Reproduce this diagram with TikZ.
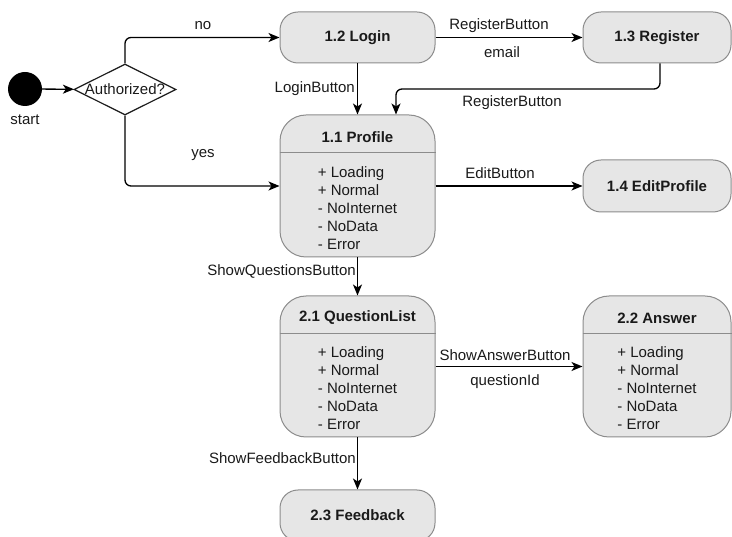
\documentclass[tikz,border=0pt]{standalone}
\usepackage{fontspec}
\setmainfont{Liberation Sans}
\usetikzlibrary{arrows.meta,shapes.geometric}
\definecolor{boxfill}{HTML}{E6E6E6}
\definecolor{boxline}{HTML}{8C8C8C}
\definecolor{ink}{HTML}{1A1A1A}
\begin{document}
\begin{tikzpicture}[x=1pt,y=-1pt,
  every node/.style={font=\fontsize{15}{18}\selectfont, text=ink},
  statebox/.style={draw=boxline, fill=boxfill, line width=1pt, rounded corners=18pt, inner sep=0pt},
  bigbox/.style={statebox, rounded corners=26pt, minimum height=141pt},
  leftcol/.style={minimum width=155pt},
  rightcol/.style={minimum width=148pt},
  boxtitle/.style={font=\fontsize{15}{18}\selectfont\bfseries},
  sep/.style={draw=boxline, line width=1pt},
  flow/.style={draw=black, line width=1.3pt, -{Stealth[length=11pt,width=9pt,inset=3pt]}},
  lbl/.style={inner sep=0pt}
]
\useasboundingbox (0,0) rectangle (732,537);
\clip (0,0) rectangle (732,537);

% start point and decision
\node[circle, fill=black, minimum size=34pt, inner sep=0pt] (start) at (25,89) {};
\node[lbl] (startlbl) at (25,120) {start};
\node[diamond, draw=ink, line width=1.2pt, minimum width=102pt, minimum height=51pt, inner sep=0pt] (auth) at (125,89.5) {};
\node[lbl] (authtxt) at (auth) {Authorized?};

% simple states
\node[statebox, leftcol, minimum height=51pt] (login) at (357.5,37.5) {\bfseries 1.2 Login};
\node[statebox, rightcol, minimum height=51pt] (register) at (657,37.5) {\bfseries 1.3 Register};
\node[statebox, rightcol, minimum height=52pt] (editprofile) at (657,186) {\bfseries 1.4 EditProfile};
\node[statebox, leftcol, minimum height=51pt] (feedback) at (357.5,515.5) {\bfseries 2.3 Feedback};

% states with a list of sub-states
\node[bigbox, leftcol, minimum height=142pt] (profile) at (357.5,186) {};
\node[boxtitle] (profileT) at (357.5,137) {1.1 Profile};
\draw[sep] (profile.west |- 0,153) -- (profile.east |- 0,153);
\node[align=left, inner sep=0pt] (profileS) at (357.5,208) {+ Loading\\+ Normal\\- NoInternet\\- NoData\\- Error};

\node[bigbox, leftcol] (qlist) at (357.5,366.5) {};
\node[boxtitle] (qlistT) at (357.5,318) {2.1 QuestionList};
\draw[sep] (qlist.west |- 0,334) -- (qlist.east |- 0,334);
\node[align=left, inner sep=0pt] (qlistS) at (357.5,388) {+ Loading\\+ Normal\\- NoInternet\\- NoData\\- Error};

\node[bigbox, rightcol] (answer) at (657,366.5) {};
\node[boxtitle] (answerT) at (657,318) {2.2 Answer};
\draw[sep] (answer.west |- 0,334) -- (answer.east |- 0,334);
\node[align=left, inner sep=0pt] (answerS) at (657,388) {+ Loading\\+ Normal\\- NoInternet\\- NoData\\- Error};

% transitions
\draw[flow] (start) -- (auth);
\draw[flow, rounded corners=6pt] (auth.north) |- (login.west);
\draw[flow, rounded corners=6pt] (auth.south) |- (profile.west);
\draw[flow] (login) -- (register);
\draw[flow] (login) -- (profile);
\coordinate (regdrop) at ([xshift=3pt]register.south);
\coordinate (regbend) at (396,89);
\draw[flow, rounded corners=6pt] (regdrop) |- (regbend) -- (regbend |- profile.north);
\draw[flow] (profile) -- (editprofile);
\draw[flow] (profile) -- (qlist);
\draw[flow] (qlist) -- (answer);
\draw[flow] (qlist) -- (feedback);

% transition labels
\node[lbl] (lno) at (203,26) {no};
\node[lbl] (lyes) at (203,155) {yes};
\node[lbl, anchor=east] (lloginbtn) at (355,89) {LoginButton};
\node[lbl] (lregbtn) at (499,26) {RegisterButton};
\node[lbl] (lemail) at (502,52) {email};
\node[lbl] (lregbtn2) at (512,103) {RegisterButton};
\node[lbl] (leditbtn) at (500,173) {EditButton};
\node[lbl, anchor=east] (lshowq) at (356,271) {ShowQuestionsButton};
\node[lbl] (lshowa) at (505,355) {ShowAnswerButton};
\node[lbl] (lqid) at (505,382) {questionId};
\node[lbl, anchor=east] (lshowf) at (356,458) {ShowFeedbackButton};
\end{tikzpicture}
\end{document}
